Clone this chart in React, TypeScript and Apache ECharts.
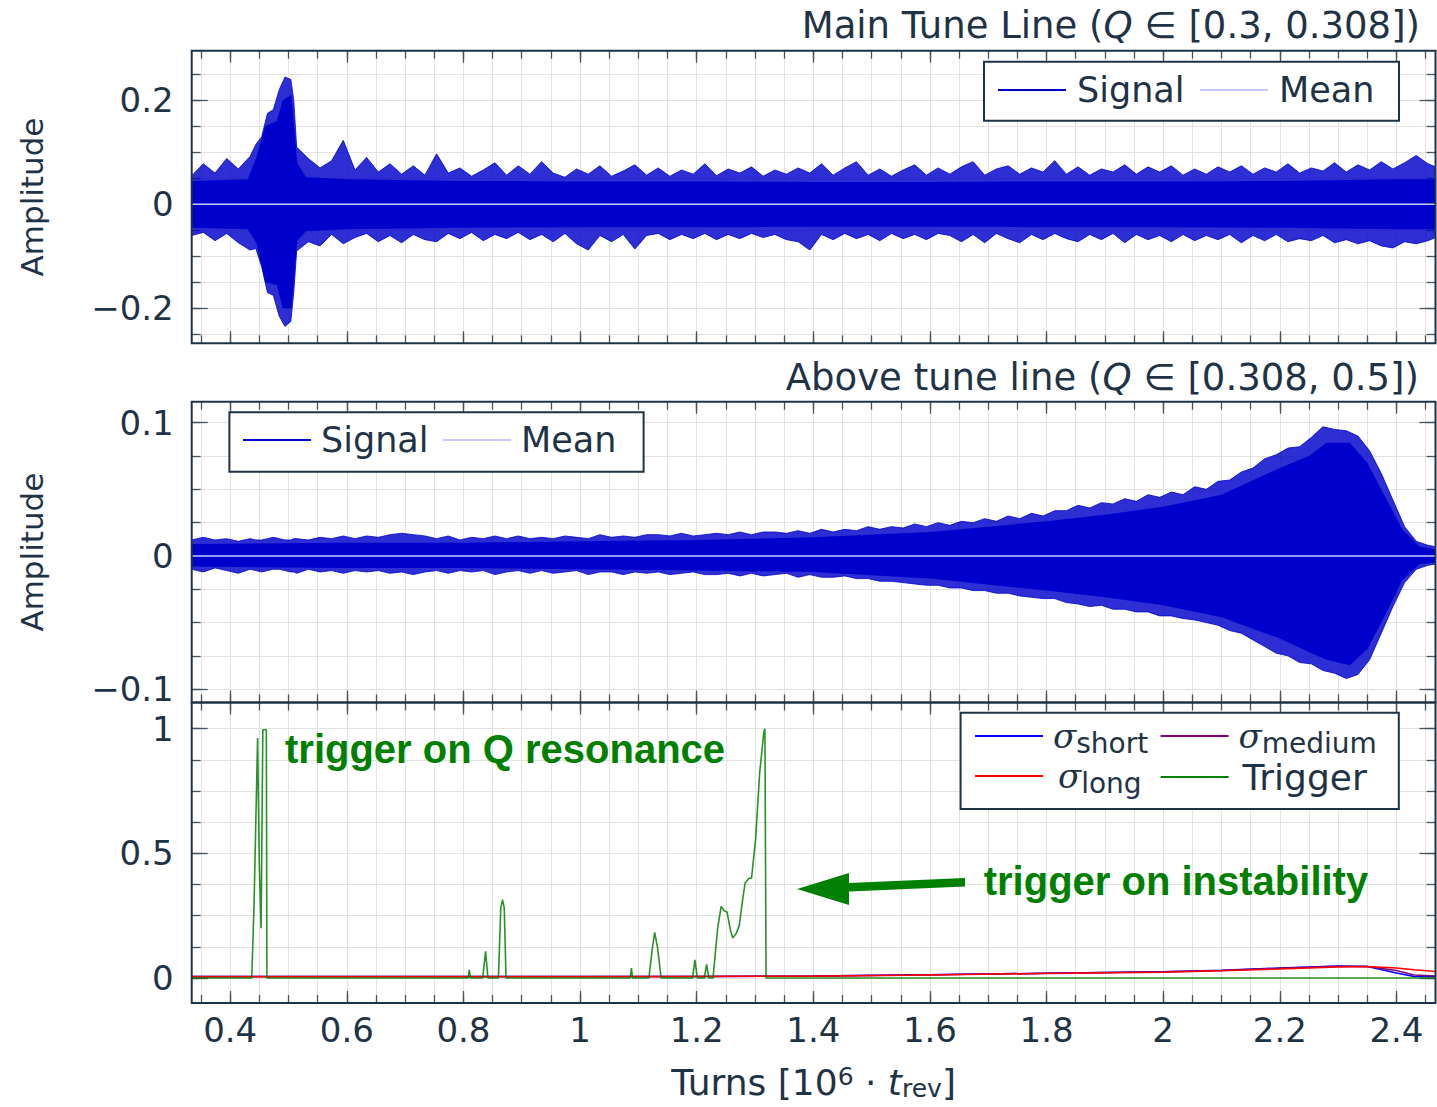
import React, { useEffect, useRef } from 'react';
import * as echarts from 'echarts';

// ---------------- data ----------------
const signalTurns = [
  0.334, 0.354, 0.374, 0.394, 0.414, 0.434, 0.444, 0.454, 0.464, 0.474, 0.484, 0.494, 0.504, 0.509, 0.514,
  0.534, 0.554, 0.574, 0.594, 0.614, 0.634, 0.654, 0.674, 0.694, 0.714,
  0.734, 0.754, 0.774, 0.794, 0.814, 0.834, 0.854, 0.874, 0.894, 0.914,
  0.934, 0.954, 0.974, 0.994, 1.014, 1.034, 1.054, 1.074, 1.094, 1.114,
  1.134, 1.154, 1.174, 1.194, 1.214, 1.234, 1.254, 1.274, 1.294, 1.314,
  1.334, 1.354, 1.374, 1.394, 1.414, 1.434, 1.454, 1.474, 1.494, 1.514,
  1.534, 1.554, 1.574, 1.594, 1.614, 1.634, 1.654, 1.674, 1.694, 1.714,
  1.734, 1.754, 1.774, 1.794, 1.814, 1.834, 1.854, 1.874, 1.894, 1.914,
  1.934, 1.954, 1.974, 1.994, 2.014, 2.034, 2.054, 2.074, 2.094, 2.114,
  2.134, 2.154, 2.174, 2.194, 2.214, 2.234, 2.254, 2.274, 2.294, 2.314,
  2.334, 2.354, 2.374, 2.394, 2.414, 2.434, 2.454, 2.467,
];

// Main tune line: outer (spike) envelope of the signal
const topUpper = [
  0.055, 0.078, 0.060, 0.088, 0.068, 0.092, 0.115, 0.130, 0.175, 0.182, 0.220, 0.245, 0.240, 0.200, 0.110,
  0.088, 0.070, 0.084, 0.123, 0.066, 0.090, 0.062, 0.078, 0.058, 0.074,
  0.056, 0.097, 0.060, 0.070, 0.054, 0.066, 0.080, 0.056, 0.074, 0.058,
  0.082, 0.060, 0.052, 0.068, 0.058, 0.074, 0.054, 0.064, 0.076, 0.056,
  0.070, 0.054, 0.066, 0.058, 0.078, 0.055, 0.068, 0.060, 0.072, 0.054,
  0.066, 0.058, 0.070, 0.060, 0.078, 0.056, 0.070, 0.082, 0.056, 0.068,
  0.054, 0.066, 0.076, 0.056, 0.070, 0.058, 0.072, 0.082, 0.056, 0.068,
  0.074, 0.058, 0.070, 0.062, 0.084, 0.058, 0.072, 0.056, 0.068, 0.062,
  0.076, 0.058, 0.072, 0.062, 0.074, 0.056, 0.068, 0.058, 0.072, 0.062,
  0.074, 0.058, 0.070, 0.062, 0.078, 0.060, 0.070, 0.064, 0.080, 0.062,
  0.076, 0.066, 0.082, 0.068, 0.080, 0.094, 0.078, 0.072,
];
const topLower = [
  -0.060, -0.054, -0.070, -0.056, -0.074, -0.088, -0.085, -0.120, -0.170, -0.175, -0.215, -0.235, -0.225, -0.170, -0.090,
  -0.072, -0.080, -0.058, -0.076, -0.064, -0.056, -0.072, -0.060, -0.074, -0.058,
  -0.068, -0.072, -0.056, -0.066, -0.054, -0.070, -0.058, -0.066, -0.054, -0.068,
  -0.058, -0.072, -0.056, -0.076, -0.088, -0.060, -0.072, -0.058, -0.086, -0.060,
  -0.056, -0.068, -0.058, -0.066, -0.056, -0.068, -0.058, -0.066, -0.056, -0.064,
  -0.058, -0.068, -0.072, -0.088, -0.058, -0.068, -0.056, -0.066, -0.058, -0.070,
  -0.056, -0.066, -0.058, -0.068, -0.056, -0.060, -0.072, -0.058, -0.074, -0.056,
  -0.066, -0.074, -0.058, -0.068, -0.056, -0.066, -0.072, -0.058, -0.068, -0.056,
  -0.074, -0.058, -0.068, -0.060, -0.072, -0.058, -0.070, -0.060, -0.068, -0.058,
  -0.074, -0.060, -0.070, -0.058, -0.072, -0.066, -0.070, -0.060, -0.074, -0.068,
  -0.076, -0.070, -0.080, -0.084, -0.072, -0.076, -0.070, -0.064,
];
// Main tune line: dense (solid) core of the signal
const topCoreTurns = [0.334, 0.43, 0.445, 0.46, 0.48, 0.49, 0.505, 0.515, 0.53, 0.6, 0.8, 1.0, 1.2, 1.4, 1.6, 1.8, 2.0, 2.2, 2.4, 2.467];
const topCoreUpper = [0.045, 0.048, 0.09, 0.15, 0.16, 0.2, 0.21, 0.08, 0.052, 0.048, 0.045, 0.044, 0.044, 0.043, 0.043, 0.044, 0.044, 0.045, 0.048, 0.048];
const topCoreLower = [-0.045, -0.048, -0.075, -0.15, -0.155, -0.2, -0.2, -0.07, -0.052, -0.048, -0.045, -0.044, -0.044, -0.043, -0.043, -0.044, -0.044, -0.045, -0.048, -0.048];

// Above tune line: outer envelope of the signal
const midUpper = [
  0.012, 0.014, 0.012, 0.013, 0.011, 0.013, 0.012, 0.012, 0.013, 0.014, 0.013, 0.012, 0.012, 0.013, 0.013,
  0.012, 0.014, 0.013, 0.015, 0.013, 0.015, 0.014, 0.016, 0.017, 0.016,
  0.015, 0.013, 0.015, 0.012, 0.014, 0.013, 0.015, 0.013, 0.015, 0.013,
  0.014, 0.013, 0.015, 0.014, 0.013, 0.016, 0.014, 0.015, 0.014, 0.016,
  0.016, 0.015, 0.017, 0.015, 0.016, 0.017, 0.016, 0.018, 0.016, 0.018,
  0.018, 0.017, 0.019, 0.017, 0.020, 0.018, 0.020, 0.019, 0.022, 0.020,
  0.022, 0.021, 0.024, 0.022, 0.025, 0.023, 0.026, 0.025, 0.028, 0.026,
  0.030, 0.028, 0.032, 0.030, 0.034, 0.034, 0.038, 0.036, 0.040, 0.039,
  0.043, 0.041, 0.046, 0.044, 0.048, 0.046, 0.052, 0.050, 0.056, 0.057,
  0.063, 0.066, 0.073, 0.076, 0.081, 0.082, 0.089, 0.097, 0.095, 0.094,
  0.090, 0.079, 0.062, 0.042, 0.022, 0.011, 0.008, 0.007,
];
const midLower = [
  -0.010, -0.012, -0.009, -0.011, -0.013, -0.010, -0.011, -0.012, -0.011, -0.010, -0.010, -0.011, -0.012, -0.012, -0.013,
  -0.010, -0.012, -0.011, -0.013, -0.011, -0.012, -0.011, -0.013, -0.012, -0.014,
  -0.012, -0.011, -0.013, -0.011, -0.012, -0.011, -0.014, -0.012, -0.011, -0.013,
  -0.011, -0.013, -0.012, -0.011, -0.014, -0.012, -0.012, -0.014, -0.012, -0.013,
  -0.012, -0.014, -0.013, -0.012, -0.014, -0.014, -0.013, -0.015, -0.013, -0.015,
  -0.014, -0.013, -0.016, -0.014, -0.016, -0.016, -0.015, -0.017, -0.017, -0.019,
  -0.019, -0.020, -0.021, -0.022, -0.022, -0.024, -0.024, -0.026, -0.026, -0.028,
  -0.028, -0.030, -0.031, -0.032, -0.032, -0.035, -0.036, -0.038, -0.037, -0.040,
  -0.040, -0.042, -0.042, -0.045, -0.045, -0.047, -0.048, -0.050, -0.052, -0.056,
  -0.058, -0.063, -0.068, -0.073, -0.075, -0.080, -0.081, -0.086, -0.088, -0.092,
  -0.089, -0.078, -0.058, -0.038, -0.020, -0.010, -0.007, -0.006,
];
// Above tune line: dense (solid) core of the signal
const midCoreTurns = [0.334, 0.6, 0.8, 1.0, 1.2, 1.4, 1.6, 1.8, 1.9, 2.0, 2.1, 2.2, 2.25, 2.28, 2.32, 2.35, 2.38, 2.41, 2.44, 2.467];
const midCoreUpper = [0.009, 0.010, 0.010, 0.011, 0.012, 0.014, 0.018, 0.026, 0.031, 0.037, 0.046, 0.066, 0.075, 0.085, 0.085, 0.070, 0.045, 0.020, 0.007, 0.005];
const midCoreLower = [-0.008, -0.009, -0.009, -0.010, -0.011, -0.012, -0.017, -0.026, -0.031, -0.037, -0.046, -0.062, -0.072, -0.078, -0.082, -0.070, -0.045, -0.018, -0.006, -0.005];

const meanTurns = [0.334, 2.467];
const topMean = [0, 0];
const midMean = [0, 0];

const sigmaTurns = [0.334, 0.5, 0.8, 1.0, 1.2, 1.4, 1.6, 1.8, 2.0, 2.1, 2.2, 2.3, 2.35, 2.4, 2.43, 2.467];
const sigmaShort = [0.006, 0.006, 0.006, 0.006, 0.006, 0.008, 0.013, 0.019, 0.025, 0.031, 0.040, 0.048, 0.046, 0.020, 0.006, 0.005];
const sigmaMedium = [0.006, 0.006, 0.006, 0.006, 0.006, 0.008, 0.013, 0.019, 0.025, 0.030, 0.039, 0.047, 0.046, 0.030, 0.012, 0.008];
const sigmaLong = [0.004, 0.005, 0.005, 0.005, 0.006, 0.007, 0.012, 0.018, 0.023, 0.029, 0.036, 0.044, 0.046, 0.040, 0.033, 0.026];

const triggerTurns = [
  0.334, 0.437, 0.441, 0.447, 0.450, 0.453, 0.456, 0.459, 0.462, 0.463,
  0.808, 0.810, 0.812, 0.833, 0.838, 0.842, 0.860, 0.864, 0.867, 0.870, 0.873,
  1.086, 1.088, 1.090, 1.118, 1.124, 1.128, 1.133, 1.139,
  1.193, 1.197, 1.201, 1.213, 1.217, 1.221,
  1.228, 1.236, 1.242, 1.247, 1.252, 1.258, 1.262, 1.268, 1.273, 1.278,
  1.283, 1.290, 1.294, 1.301, 1.308, 1.315, 1.317, 1.319, 2.467,
];
const triggerValues = [
  0, 0, 0.3, 0.963, 0.45, 0.2, 0.996, 0.996, 0.996, 0,
  0, 0.033, 0, 0, 0.107, 0, 0, 0.28, 0.314, 0.28, 0,
  0, 0.04, 0, 0, 0.12, 0.183, 0.12, 0,
  0, 0.073, 0, 0, 0.055, 0,
  0, 0.2, 0.287, 0.27, 0.265, 0.19, 0.16, 0.18, 0.21, 0.3,
  0.381, 0.4, 0.4, 0.555, 0.822, 0.983, 1.0, 0, 0,
];

const xMajorTicks = [0.4, 0.6, 0.8, 1, 1.2, 1.4, 1.6, 1.8, 2, 2.2, 2.4];
const xMinorTicks = [
  0.35, 0.4, 0.45, 0.5, 0.55, 0.6, 0.65, 0.7, 0.75, 0.8, 0.85, 0.9, 0.95, 1,
  1.05, 1.1, 1.15, 1.2, 1.25, 1.3, 1.35, 1.4, 1.45, 1.5, 1.55, 1.6, 1.65, 1.7,
  1.75, 1.8, 1.85, 1.9, 1.95, 2, 2.05, 2.1, 2.15, 2.2, 2.25, 2.3, 2.35, 2.4, 2.45,
];
const yTopMajor = [-0.2, 0, 0.2];
const yTopMinor = [-0.25, -0.2, -0.15, -0.1, -0.05, 0, 0.05, 0.1, 0.15, 0.2, 0.25];
const yMidMajor = [-0.1, 0, 0.1];
const yMidMinor = [-0.1, -0.075, -0.05, -0.025, 0, 0.025, 0.05, 0.075, 0.1];
const yBotMajor = [0, 0.5, 1];
const yBotMinor = [0, 0.125, 0.25, 0.375, 0.5, 0.625, 0.75, 0.875, 1];

const topTitle = 'Main Tune Line ({q|Q} ∈ [0.3, 0.308])';
const midTitle = 'Above tune line ({q|Q} ∈ [0.308, 0.5])';
const sigmaSubs: Record<string, string> = { σshort: 'short', σmedium: 'medium', σlong: 'long' };

// ---------------- styling ----------------
const FONT = "'DejaVu Sans', sans-serif";
const TEXT = '#1f3346';
const FRAME = '#1f3346';
const TICK = '#46525e';
const GRIDLINE = '#e2e2e2';
const SIGNAL = '#0000cc';
const MEAN = '#c8c8ff';
const GREEN = '#008000';

const X_MIN = 0.334;
const X_MAX = 2.467;
const PLOT_LEFT = 191.7;
const PLOT_WIDTH = 1243.8;
const grids = [
  { left: PLOT_LEFT, top: 50.7, width: PLOT_WIDTH, height: 292.6 },
  { left: PLOT_LEFT, top: 401.7, width: PLOT_WIDTH, height: 300.8 },
  { left: PLOT_LEFT, top: 702.5, width: PLOT_WIDTH, height: 300.5 },
];

const zip = (xs: number[], ys: number[]) => xs.map((x, i) => [x, ys[i]]);
const fmt = (v: number) => (v < 0 ? '\u2212' + String(Math.abs(v)) : String(v));

function xAxes(gridIndex: number, withLabels: boolean) {
  const base: any = {
    type: 'value', gridIndex, min: X_MIN, max: X_MAX, silent: true,
    axisLine: { show: false, onZero: false }, splitLine: { show: false },
    axisLabel: { show: false }, axisTick: { show: false },
  };
  const minorTick = { show: true, inside: true, length: 8, customValues: xMinorTicks, lineStyle: { color: TICK, width: 1.3 } };
  const majorTick = { ...minorTick, length: 12, customValues: xMajorTicks };
  const labelled = withLabels
    ? {
        axisLabel: { show: true, customValues: xMajorTicks, formatter: fmt, fontFamily: FONT, fontSize: 34, color: TEXT, margin: 10 },
        name: '{n|Turns [10}{sup|6}{n| · }{it|t}{sub|rev}{n|]}',
        nameLocation: 'middle',
        nameGap: 60,
        nameTextStyle: {
          fontFamily: FONT, fontSize: 36, color: TEXT,
          rich: {
            n: { fontFamily: FONT, fontSize: 36, color: TEXT, lineHeight: 38 },
            it: { fontFamily: FONT, fontSize: 36, color: TEXT, lineHeight: 38, fontStyle: 'italic' },
            sup: { fontFamily: FONT, fontSize: 25, color: TEXT, lineHeight: 28, padding: [0, 0, 12, 0] },
            sub: { fontFamily: FONT, fontSize: 25, color: TEXT, lineHeight: 28, padding: [12, 0, 0, 0] },
          },
        },
      }
    : {};
  return [
    { ...base, position: 'bottom', axisTick: minorTick, splitLine: { show: true, lineStyle: { color: GRIDLINE, width: 1 } } },
    { ...base, position: 'bottom', axisTick: majorTick, ...labelled },
    { ...base, position: 'top', axisTick: minorTick },
    { ...base, position: 'top', axisTick: majorTick },
  ];
}

function yAxes(gridIndex: number, min: number, max: number, major: number[], minor: number[], withName: boolean) {
  const base: any = {
    type: 'value', gridIndex, min, max, silent: true,
    axisLine: { show: false, onZero: false }, splitLine: { show: false },
    axisLabel: { show: false }, axisTick: { show: false },
  };
  const minorTick = { show: true, inside: true, length: 9, customValues: minor, lineStyle: { color: TICK, width: 1.3 } };
  const majorTick = { ...minorTick, length: 16, customValues: major };
  const named = withName
    ? {
        name: 'Amplitude', nameLocation: 'middle', nameRotate: 90, nameGap: 144,
        nameTextStyle: { fontFamily: FONT, fontSize: 31, color: TEXT },
      }
    : {};
  return [
    { ...base, position: 'left', axisTick: minorTick, splitLine: { show: true, lineStyle: { color: GRIDLINE, width: 1 } } },
    {
      ...base, position: 'left', axisTick: majorTick,
      axisLabel: { show: true, customValues: major, formatter: fmt, fontFamily: FONT, fontSize: 34, color: TEXT, margin: 18 },
      ...named,
    },
    { ...base, position: 'right', axisTick: minorTick },
    { ...base, position: 'right', axisTick: majorTick },
  ];
}

const legendText = { fontFamily: FONT, fontSize: 35, color: TEXT, lineHeight: 40 };
function legendItem(name: string, left: number, top: number, padLeft: number, extra: any = {}) {
  return {
    show: true, data: [name], left, top, orient: 'horizontal', icon: 'rect',
    itemWidth: 68, itemHeight: 2, padding: 0, itemGap: 0, z: 6, selectedMode: false,
    textStyle: { ...legendText, padding: [0, 0, 0, padLeft] },
    ...extra,
  };
}
const sigmaRich = {
  sig: { fontFamily: "'DejaVu Serif', serif", fontStyle: 'italic', fontSize: 34, color: TEXT, lineHeight: 40 },
  sub: { fontFamily: FONT, fontSize: 28, color: TEXT, lineHeight: 30, padding: [14, 0, 0, 0] },
};
function sigmaLegend(name: string, left: number, top: number, padLeft: number) {
  return legendItem(name, left, top, padLeft, {
    formatter: (n: string) => (sigmaSubs[n] ? `{sig|σ}{sub|${sigmaSubs[n]}}` : n),
    textStyle: { ...legendText, fontSize: 36, padding: [0, 0, 0, padLeft], rich: sigmaRich },
  });
}

function lineSeries(name: string, xi: number, data: number[][], color: string, extra: any = {}) {
  return {
    name, type: 'line', xAxisIndex: xi, yAxisIndex: xi, data, symbol: 'none', color,
    lineStyle: { color, width: 1 }, silent: true, ...extra,
  };
}

function buildOption(): any {
  const fringe = {
    lineStyle: { color: SIGNAL, width: 1, opacity: 0.8 },
    areaStyle: { color: SIGNAL, opacity: 0.82, origin: 'auto' },
  };
  const core = {
    lineStyle: { color: SIGNAL, width: 0, opacity: 0 },
    areaStyle: { color: SIGNAL, opacity: 1, origin: 'auto' },
  };
  const titleStyle = {
    fontFamily: FONT, fontSize: 37, fontWeight: 'normal', color: TEXT, lineHeight: 44,
    rich: { q: { fontFamily: FONT, fontSize: 37, fontStyle: 'italic', color: TEXT, lineHeight: 44 } },
  };
  const annot = { fill: GREEN, fontFamily: "'Liberation Sans', Arial, sans-serif", fontWeight: 'bold', fontSize: 40, verticalAlign: 'middle' };
  return {
    animation: false,
    backgroundColor: '#ffffff',
    title: [
      { text: topTitle, right: 17, top: 3, padding: 0, textStyle: titleStyle },
      { text: midTitle, right: 18, top: 355.5, padding: 0, textStyle: titleStyle },
    ],
    grid: grids.map((g) => ({ ...g, show: false, containLabel: false, outerBoundsMode: 'none' })),
    xAxis: [...xAxes(0, false), ...xAxes(1, false), ...xAxes(2, true)],
    yAxis: [
      ...yAxes(0, -0.2673, 0.2954, yTopMajor, yTopMinor, true),
      ...yAxes(1, -0.11, 0.1158, yMidMajor, yMidMinor, true),
      ...yAxes(2, -0.1003, 1.105, yBotMajor, yBotMinor, false),
    ],
    legend: [
      legendItem('Signal', 998, 70, 6),
      legendItem('Mean', 1200, 70, 6),
      legendItem('Signal', 243, 420, 5),
      legendItem('Mean', 443, 420, 5),
      sigmaLegend('σshort', 975, 715, 5),
      sigmaLegend('σmedium', 1160.6, 715, 5),
      sigmaLegend('σlong', 975, 755, 10),
      legendItem('Trigger', 1160.6, 757, 9, { textStyle: { ...legendText, fontSize: 36, padding: [0, 0, 0, 9] } }),
    ],
    series: [
      lineSeries('Signal', 0, zip(signalTurns, topUpper), SIGNAL, fringe),
      lineSeries('Signal', 0, zip(signalTurns, topLower), SIGNAL, fringe),
      lineSeries('Signal', 0, zip(topCoreTurns, topCoreUpper), SIGNAL, core),
      lineSeries('Signal', 0, zip(topCoreTurns, topCoreLower), SIGNAL, core),
      lineSeries('Mean', 0, zip(meanTurns, topMean), MEAN, { lineStyle: { color: MEAN, width: 1.5 }, z: 3 }),
      lineSeries('Signal', 4, zip(signalTurns, midUpper), SIGNAL, fringe),
      lineSeries('Signal', 4, zip(signalTurns, midLower), SIGNAL, fringe),
      lineSeries('Signal', 4, zip(midCoreTurns, midCoreUpper), SIGNAL, core),
      lineSeries('Signal', 4, zip(midCoreTurns, midCoreLower), SIGNAL, core),
      lineSeries('Mean', 4, zip(meanTurns, midMean), MEAN, { lineStyle: { color: MEAN, width: 1.5 }, z: 3 }),
      lineSeries('σshort', 8, zip(sigmaTurns, sigmaShort), '#0000ff', { lineStyle: { color: '#0000ff', width: 1.5 } }),
      lineSeries('σmedium', 8, zip(sigmaTurns, sigmaMedium), '#800080', { lineStyle: { color: '#800080', width: 1.5 } }),
      lineSeries('σlong', 8, zip(sigmaTurns, sigmaLong), '#ff0000', { lineStyle: { color: '#ff0000', width: 1.5 } }),
      lineSeries('Trigger', 8, zip(triggerTurns, triggerValues), GREEN, { lineStyle: { color: GREEN, width: 1.6, opacity: 0.85 }, z: 3 }),
    ],
    graphic: [
      ...grids.map((g) => ({
        type: 'rect', z: 4, silent: true,
        shape: { x: g.left, y: g.top, width: g.width, height: g.height },
        style: { fill: 'none', stroke: FRAME, lineWidth: 2 },
      })),
      { type: 'rect', z: 5, silent: true, shape: { x: 984, y: 61.7, width: 415, height: 59 }, style: { fill: '#ffffff', stroke: FRAME, lineWidth: 2 } },
      { type: 'rect', z: 5, silent: true, shape: { x: 229.4, y: 412.3, width: 414.2, height: 59.4 }, style: { fill: '#ffffff', stroke: FRAME, lineWidth: 2 } },
      { type: 'rect', z: 5, silent: true, shape: { x: 960.6, y: 712.7, width: 438.2, height: 96.3 }, style: { fill: '#ffffff', stroke: FRAME, lineWidth: 2 } },
      { type: 'text', z: 7, silent: true, x: 285, y: 749.4, style: { text: 'trigger on Q resonance', ...annot } },
      { type: 'text', z: 7, silent: true, x: 983.7, y: 881.4, style: { text: 'trigger on instability', ...annot } },
      {
        type: 'polygon', z: 7, silent: true,
        shape: { points: [[797, 889], [849, 873], [849, 883], [965, 878], [965, 886.5], [849, 891.5], [849, 905]] },
        style: { fill: GREEN },
      },
    ],
  };
}

export default function App() {
  const ref = useRef<HTMLDivElement>(null);
  useEffect(() => {
    document.body.style.margin = '0';
    if (!ref.current) return;
    const chart = echarts.init(ref.current, undefined, { renderer: 'svg' });
    chart.setOption(buildOption());
    return () => chart.dispose();
  }, []);
  return <div ref={ref} style={{ width: 1437, height: 1107 }} />;
}
